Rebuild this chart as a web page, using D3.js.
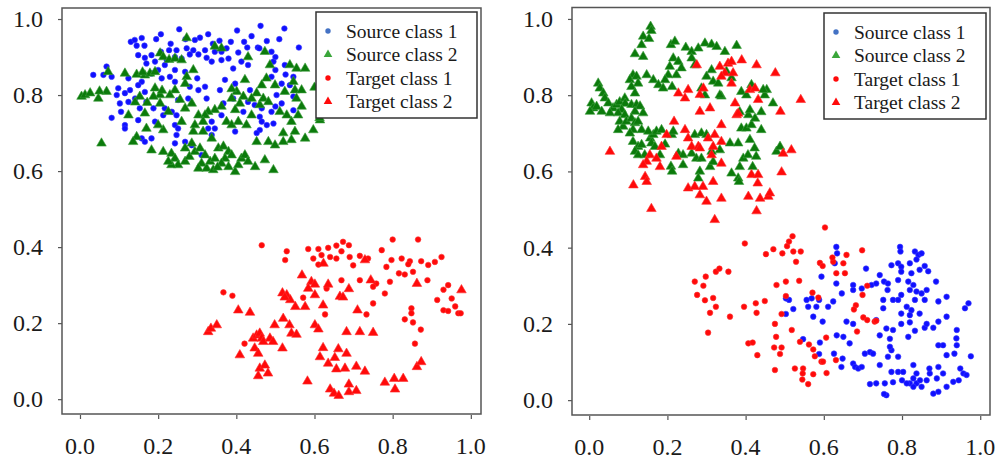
<!DOCTYPE html>
<html>
<head>
<meta charset="utf-8">
<script src="https://cdn.jsdelivr.net/npm/d3@7"></script>
<style>
  body { margin: 0; background: #fff; }
</style>
</head>
<body>
<svg id="canvas" width="1005" height="461"></svg>
<script>
// tick values and legend labels
var tickValues = [0, 0.2, 0.4, 0.6, 0.8, 1.0];
var legendLabels = ['Source class 1', 'Source class 2', 'Target class 1', 'Target class 2'];

// left panel
var leftSrc1 = [[.13,.94],[.145,.93],[.158,.95],[.195,.947],[.207,.96],[.254,.973],[.27,.947],[.294,.945],[.307,.951],[.328,.96],[.357,.943],[.386,.94],[.402,.97],[.439,.955],[.462,.982],[.51,.947],[.523,.975],[.56,.925],[.478,.942],[.455,.925],[.428,.925],[.362,.914],[.345,.914],[.32,.918],[.29,.918],[.273,.923],[.247,.918],[.228,.918],[.207,.914],[.183,.905],[.166,.898],[.149,.905],[.17,.883],[.192,.888],[.222,.892],[.243,.9],[.26,.896],[.281,.907],[.303,.907],[.324,.898],[.337,.888],[.362,.892],[.38,.896],[.405,.912],[.375,.923],[.413,.888],[.43,.879],[.459,.923],[.49,.914],[.495,.888],[.5,.866],[.49,.848],[.524,.879],[.526,.854],[.546,.848],[.516,.83],[.537,.826],[.546,.796],[.503,.8],[.49,.756],[.495,.725],[.478,.721],[.46,.708],[.452,.7],[.46,.743],[.43,.782],[.435,.813],[.392,.791],[.367,.778],[.362,.747],[.337,.73],[.328,.712],[.345,.712],[.337,.695],[.324,.791],[.32,.822],[.3,.844],[.269,.861],[.243,.866],[.23,.848],[.209,.844],[.243,.835],[.281,.822],[.303,.813],[.277,.791],[.251,.787],[.235,.756],[.247,.747],[.217,.765],[.213,.747],[.243,.721],[.251,.712],[.247,.695],[.243,.673],[.269,.677],[.286,.668],[.311,.642],[.192,.73],[.188,.765],[.17,.782],[.166,.808],[.158,.835],[.149,.826],[.141,.791],[.128,.813],[.124,.782],[.115,.805],[.102,.778],[.105,.756],[.098,.818],[.094,.8],[.081,.848],[.068,.875],[.06,.853],[.034,.853],[.081,.74],[.115,.721],[.115,.712],[.149,.734],[.153,.765],[.158,.686],[.166,.677],[.183,.686],[.124,.844],[.183,.857],[.2,.866],[.217,.879],[.392,.87],[.397,.83],[.371,.84],[.358,.813],[.418,.756],[.447,.774],[.465,.765],[.465,.73],[.516,.778],[.5,.77],[.546,.76],[.397,.704],[.14,.945],[.165,.93],[.232,.935],[.34,.935],[.42,.94],[.5,.9]];
var leftSrc2 = [[.004,.796],[.013,.8],[.026,.805],[.047,.791],[.068,.809],[.072,.861],[.115,.857],[.145,.854],[.166,.852],[.179,.857],[.192,.861],[.205,.91],[.213,.9],[.228,.893],[.243,.896],[.26,.892],[.273,.95],[.29,.866],[.273,.848],[.269,.83],[.243,.813],[.23,.8],[.205,.8],[.188,.796],[.153,.796],[.172,.78],[.166,.752],[.124,.747],[.141,.781],[.205,.778],[.213,.708],[.2,.721],[.17,.712],[.145,.69],[.136,.677],[.183,.655],[.213,.651],[.234,.646],[.243,.633],[.251,.616],[.269,.66],[.286,.673],[.29,.704],[.294,.721],[.303,.747],[.269,.765],[.286,.778],[.256,.788],[.226,.756],[.26,.73],[.269,.625],[.28,.638],[.294,.651],[.307,.66],[.32,.642],[.311,.62],[.303,.607],[.324,.607],[.333,.625],[.345,.633],[.354,.66],[.367,.665],[.38,.651],[.388,.642],[.371,.633],[.362,.62],[.38,.611],[.397,.598],[.405,.616],[.413,.633],[.422,.642],[.43,.625],[.448,.611],[.473,.629],[.495,.603],[.452,.677],[.482,.677],[.499,.668],[.52,.677],[.541,.682],[.55,.704],[.576,.686],[.597,.708],[.541,.73],[.529,.747],[.511,.756],[.558,.747],[.567,.77],[.554,.791],[.524,.809],[.499,.826],[.477,.844],[.465,.826],[.452,.805],[.439,.791],[.418,.796],[.401,.809],[.388,.791],[.409,.778],[.397,.761],[.362,.77],[.345,.761],[.328,.756],[.32,.747],[.315,.73],[.375,.73],[.388,.721],[.405,.73],[.426,.721],[.439,.747],[.46,.774],[.469,.791],[.482,.782],[.422,.84],[.43,.9],[.473,.914],[.486,.879],[.537,.879],[.554,.87],[.576,.87],[.55,.813],[.567,.813],[.546,.835],[.614,.734],[.362,.923],[.345,.928],[.388,.816],[.192,.818],[.21,.812],[.055,.673],[.315,.704],[.337,.686],[.234,.616],[.226,.625],[.341,.603],[.352,.61],[.16,.86],[.05,.81],[.52,.7],[.6,.82],[.613,.74]];
var leftTgt1 = [[.465,.405],[.529,.389],[.525,.366],[.584,.395],[.61,.395],[.635,.398],[.656,.404],[.673,.414],[.688,.405],[.669,.389],[.656,.37],[.64,.374],[.618,.379],[.597,.37],[.61,.354],[.699,.352],[.69,.374],[.716,.377],[.737,.37],[.8,.42],[.865,.42],[.772,.392],[.797,.366],[.823,.37],[.844,.363],[.873,.363],[.84,.355],[.891,.353],[.908,.361],[.925,.374],[.784,.348],[.816,.331],[.831,.328],[.852,.335],[.889,.313],[.758,.304],[.75,.296],[.78,.278],[.793,.309],[.942,.30],[.93,.288],[.914,.261],[.951,.265],[.96,.244],[.93,.234],[.942,.232],[.968,.226],[.974,.226],[.848,.239],[.848,.226],[.831,.21],[.852,.202],[.872,.183],[.857,.146],[.75,.252],[.733,.223],[.716,.313],[.669,.313],[.631,.291],[.627,.223],[.571,.267],[.367,.281],[.39,.272],[.421,.146]];
var leftTgt2 = [[.328,.177],[.335,.186],[.35,.195],[.405,.234],[.435,.228],[.409,.116],[.443,.16],[.452,.168],[.46,.173],[.465,.16],[.469,.151],[.447,.134],[.456,.12],[.486,.16],[.494,.151],[.498,.195],[.52,.212],[.536,.195],[.541,.173],[.554,.17],[.518,.134],[.46,.081],[.473,.089],[.481,.068],[.456,.061],[.518,.279],[.529,.274],[.538,.261],[.551,.243],[.524,.268],[.568,.326],[.592,.309],[.601,.302],[.584,.291],[.601,.274],[.635,.302],[.665,.27],[.673,.268],[.688,.29],[.622,.247],[.576,.243],[.601,.195],[.61,.184],[.682,.177],[.716,.177],[.75,.175],[.71,.234],[.622,.135],[.614,.111],[.661,.132],[.682,.12],[.652,.109],[.635,.094],[.656,.079],[.678,.081],[.707,.086],[.729,.073],[.582,.047],[.64,.026],[.65,.015],[.662,.009],[.688,.019],[.688,.039],[.707,.022],[.78,.044],[.804,.054],[.827,.054],[.806,.026],[.862,.085],[.873,.098],[.744,.313],[.862,.304],[.976,.287],[.729,.366],[.623,.357]];

// right panel
var rightSrc1 = [[.632,.402],[.634,.385],[.628,.359],[.594,.324],[.632,.306],[.646,.28],[.624,.259],[.588,.263],[.611,.245],[.581,.245],[.569,.267],[.56,.245],[.573,.219],[.597,.206],[.522,.239],[.503,.226],[.511,.263],[.675,.302],[.675,.289],[.697,.293],[.708,.345],[.722,.302],[.734,.306],[.743,.328],[.754,.311],[.764,.306],[.763,.289],[.752,.263],[.777,.263],[.79,.263],[.798,.276],[.795,.402],[.796,.39],[.773,.354],[.79,.359],[.798,.35],[.82,.359],[.833,.39],[.842,.381],[.85,.385],[.837,.369],[.858,.352],[.867,.338],[.845,.342],[.824,.333],[.798,.337],[.79,.315],[.816,.311],[.829,.302],[.82,.289],[.837,.285],[.85,.28],[.863,.289],[.858,.263],[.833,.263],[.812,.245],[.824,.236],[.82,.223],[.845,.227],[.798,.227],[.798,.2],[.82,.204],[.833,.182],[.858,.19],[.863,.2],[.893,.259],[.914,.271],[.887,.311],[.893,.206],[.914,.219],[.94,.184],[.97,.254],[.961,.241],[.76,.188],[.777,.184],[.816,.166],[.769,.161],[.743,.17],[.734,.21],[.675,.2],[.658,.206],[.633,.17],[.65,.166],[.666,.149],[.59,.151],[.588,.121],[.626,.122],[.648,.109],[.645,.087],[.675,.096],[.68,.087],[.688,.083],[.697,.087],[.705,.122],[.718,.126],[.726,.122],[.743,.092],[.764,.114],[.773,.131],[.769,.14],[.79,.114],[.79,.074],[.773,.074],[.803,.074],[.829,.092],[.837,.07],[.829,.057],[.82,.044],[.837,.044],[.846,.052],[.863,.052],[.871,.07],[.87,.083],[.893,.087],[.889,.057],[.905,.07],[.914,.118],[.934,.122],[.949,.083],[.957,.07],[.965,.066],[.945,.052],[.931,.048],[.914,.035],[.893,.022],[.88,.017],[.85,.035],[.829,.035],[.812,.044],[.8,.052],[.777,.047],[.756,.044],[.734,.044],[.718,.042],[.76,.013],[.754,.016],[.88,.19],[.905,.144],[.893,.144],[.94,.144],[.976,.115],[.939,.162],[.547,.16],[.556,.263],[.503,.267],[.752,.241]];
var rightSrc2 = [[.157,.98],[.159,.969],[.138,.954],[.153,.948],[.134,.932],[.117,.908],[.138,.901],[.209,.932],[.219,.941],[.247,.925],[.262,.914],[.279,.923],[.296,.936],[.313,.933],[.326,.927],[.347,.914],[.377,.93],[.215,.897],[.228,.888],[.206,.875],[.236,.871],[.223,.853],[.202,.853],[.194,.84],[.262,.897],[.27,.879],[.3,.849],[.317,.836],[.33,.831],[.338,.797],[.296,.8],[.313,.866],[.351,.862],[.364,.845],[.112,.853],[.104,.84],[.121,.849],[.125,.831],[.147,.853],[.108,.822],[.117,.805],[.164,.84],[.177,.827],[.189,.818],[.212,.822],[.023,.831],[.027,.818],[.036,.805],[.04,.792],[.006,.779],[.01,.766],[.019,.77],[.002,.757],[.049,.779],[.061,.766],[.07,.775],[.078,.782],[.091,.792],[.092,.778],[.083,.762],[.074,.753],[.053,.753],[.032,.757],[.091,.748],[.108,.775],[.121,.775],[.13,.771],[.138,.753],[.117,.757],[.078,.731],[.087,.718],[.095,.731],[.108,.739],[.117,.727],[.125,.731],[.134,.709],[.112,.709],[.104,.7],[.074,.709],[.112,.678],[.125,.665],[.117,.652],[.134,.67],[.142,.643],[.156,.687],[.159,.674],[.168,.665],[.164,.696],[.151,.705],[.172,.705],[.181,.643],[.125,.643],[.194,.671],[.211,.696],[.215,.705],[.209,.613],[.212,.6],[.228,.647],[.24,.617],[.24,.643],[.262,.647],[.274,.634],[.283,.6],[.279,.582],[.27,.696],[.287,.7],[.3,.696],[.309,.612],[.317,.625],[.334,.656],[.313,.652],[.364,.595],[.381,.582],[.383,.573],[.385,.612],[.394,.634],[.406,.643],[.418,.612],[.427,.639],[.423,.661],[.36,.674],[.381,.674],[.411,.683],[.389,.713],[.402,.713],[.415,.722],[.44,.709],[.424,.739],[.407,.748],[.385,.756],[.411,.761],[.44,.756],[.449,.8],[.454,.814],[.47,.779],[.479,.652],[.488,.665],[.389,.809],[.402,.8],[.445,.814],[.415,.827],[.334,.8],[.287,.818],[.185,.709],[.287,.634]];
var rightTgt1 = [[.603,.453],[.398,.411],[.452,.383],[.471,.396],[.494,.385],[.506,.404],[.511,.416],[.52,.43],[.522,.39],[.541,.39],[.529,.363],[.324,.337],[.333,.345],[.356,.337],[.298,.324],[.27,.311],[.292,.3],[.276,.276],[.296,.262],[.317,.268],[.324,.245],[.309,.229],[.36,.219],[.304,.177],[.396,.245],[.428,.229],[.426,.254],[.449,.26],[.479,.302],[.503,.311],[.503,.273],[.537,.313],[.492,.226],[.475,.2],[.518,.184],[.478,.166],[.492,.138],[.488,.121],[.473,.138],[.407,.149],[.418,.151],[.43,.118],[.475,.079],[.526,.083],[.539,.153],[.547,.083],[.546,.07],[.545,.054],[.56,.042],[.573,.068],[.607,.071],[.562,.146],[.573,.133],[.577,.115],[.594,.101],[.598,.101],[.606,.164],[.571,.282],[.586,.269],[.59,.36],[.597,.352],[.624,.363],[.622,.374],[.632,.333],[.65,.359],[.654,.333],[.658,.381],[.698,.393],[.711,.30],[.699,.276],[.682,.249],[.677,.238],[.701,.217],[.711,.21],[.73,.206],[.734,.208],[.685,.18],[.631,.105]];
var rightTgt2 = [[.275,.879],[.334,.875],[.355,.883],[.364,.888],[.39,.892],[.347,.858],[.368,.858],[.338,.849],[.364,.831],[.428,.879],[.476,.858],[.228,.805],[.253,.814],[.245,.792],[.283,.801],[.292,.818],[.283,.757],[.309,.766],[.373,.779],[.377,.748],[.381,.752],[.411,.814],[.424,.818],[.432,.788],[.489,.757],[.541,.788],[.217,.731],[.245,.709],[.198,.696],[.185,.665],[.223,.639],[.253,.687],[.262,.665],[.279,.665],[.283,.661],[.304,.687],[.321,.696],[.317,.665],[.338,.722],[.338,.678],[.313,.643],[.338,.621],[.155,.643],[.147,.626],[.138,.617],[.172,.634],[.181,.612],[.143,.586],[.147,.573],[.113,.564],[.053,.652],[.253,.556],[.27,.56],[.291,.56],[.283,.538],[.3,.521],[.317,.573],[.338,.529],[.407,.534],[.437,.529],[.458,.534],[.462,.543],[.428,.496],[.431,.569],[.415,.591],[.432,.591],[.496,.647],[.517,.656],[.492,.598],[.159,.502],[.321,.473]];

var leftSets = [leftSrc1, leftSrc2, leftTgt1, leftTgt2];
var rightSets = [rightSrc1, rightSrc2, rightTgt1, rightTgt2];

var colors = ['#1010ff', '#0b7a0b', '#ff0a0a', '#ff0a0a'];
var strokes = ['#3a3aff', '#3d9e3d', '#ff3030', '#ff3030'];
var legendColors = ['#4472c4', '#3aa63a', '#ff0a0a', '#ff0a0a'];
var shapes = ['circle', 'triangle', 'circle', 'triangle'];

var svg = d3.select('#canvas');
var serif = 'Liberation Serif';

function panel(frame, xDom, yDom, legendBox, sets) {
    var x = d3.scaleLinear().domain(xDom).range([frame[0], frame[1]]);
    var y = d3.scaleLinear().domain(yDom).range([frame[3], frame[2]]);

    var g = svg.append('g');

    // points, drawn in legend order
    sets.forEach(function(pts, i) {
        if (shapes[i] == 'circle') {
            g.append('g').selectAll('circle')
                .data(pts)
                .enter()
                .append('circle')
                .attr('cx', function(d) { return x(d[0]); })
                .attr('cy', function(d) { return y(d[1]); })
                .attr('r', 2.8)
                .style('fill', colors[i])
                .style('stroke', strokes[i])
                .style('stroke-width', 0.6);
        } else {
            g.append('g').selectAll('path')
                .data(pts)
                .enter()
                .append('path')
                .attr('d', d3.symbol().type(d3.symbolTriangle).size(40))
                .attr('transform', function(d) {
                    return 'translate(' + x(d[0]) + ',' + y(d[1]) + ')';
                })
                .style('fill', colors[i])
                .style('stroke', strokes[i])
                .style('stroke-width', 0.6);
        }
    });

    // frame
    g.append('rect')
        .attr('x', frame[0])
        .attr('y', frame[2])
        .attr('width', frame[1] - frame[0])
        .attr('height', frame[3] - frame[2])
        .style('fill', 'none')
        .style('stroke', '#555')
        .style('stroke-width', 1.5);

    // ticks through the axis generators, labels written as plain text
    var xa = g.append('g')
        .attr('transform', 'translate(0,' + (frame[3] + 1) + ')')
        .call(d3.axisBottom(x).tickValues(tickValues).tickFormat('').tickSize(4));
    var ya = g.append('g')
        .attr('transform', 'translate(' + frame[0] + ',0)')
        .call(d3.axisLeft(y).tickValues(tickValues).tickFormat('').tickSize(4));
    [xa, ya].forEach(function(a) {
        a.select('.domain').remove();
        a.selectAll('line').style('stroke', '#555').style('stroke-width', 1.2);
    });

    var fmt = d3.format('.1f');
    g.append('g').selectAll('text')
        .data(tickValues)
        .enter()
        .append('text')
        .attr('x', function(d) { return x(d); })
        .attr('y', frame[3] + 40)
        .attr('text-anchor', 'middle')
        .attr('font-family', serif)
        .attr('font-size', 24)
        .attr('fill', '#1a1a1a')
        .text(fmt);
    g.append('g').selectAll('text')
        .data(tickValues)
        .enter()
        .append('text')
        .attr('x', frame[0] - 19)
        .attr('y', function(d) { return y(d) + 8; })
        .attr('text-anchor', 'end')
        .attr('font-family', serif)
        .attr('font-size', 24)
        .attr('fill', '#1a1a1a')
        .text(fmt);

    // legend
    var lg = g.append('g');
    lg.append('rect')
        .attr('x', legendBox[0])
        .attr('y', legendBox[1])
        .attr('width', legendBox[2])
        .attr('height', legendBox[3])
        .style('fill', '#fff')
        .style('stroke', '#333')
        .style('stroke-width', 1.5);

    legendLabels.forEach(function(lab, i) {
        var cy = legendBox[1] + 19 + i * 23.5;
        var mx = legendBox[0] + 12;
        if (shapes[i] == 'circle') {
            lg.append('circle')
                .attr('cx', mx)
                .attr('cy', cy)
                .attr('r', 2.7)
                .style('fill', legendColors[i]);
        } else {
            lg.append('path')
                .attr('d', d3.symbol().type(d3.symbolTriangle).size(32))
                .attr('transform', 'translate(' + mx + ',' + cy + ')')
                .style('fill', legendColors[i]);
        }
        lg.append('text')
            .attr('x', legendBox[0] + 30)
            .attr('y', cy + 6.5)
            .attr('font-family', serif)
            .attr('font-size', 19.5)
            .attr('fill', '#1a1a1a')
            .text(lab);
    });
}

panel([62, 481, 8, 414], [-0.046, 1.026], [-0.039, 1.029], [316, 12, 161, 106], leftSets);
panel([572, 990, 7.5, 415], [-0.044, 1.025], [-0.039, 1.03], [824, 13, 162, 106], rightSets);
</script>
</body>
</html>
